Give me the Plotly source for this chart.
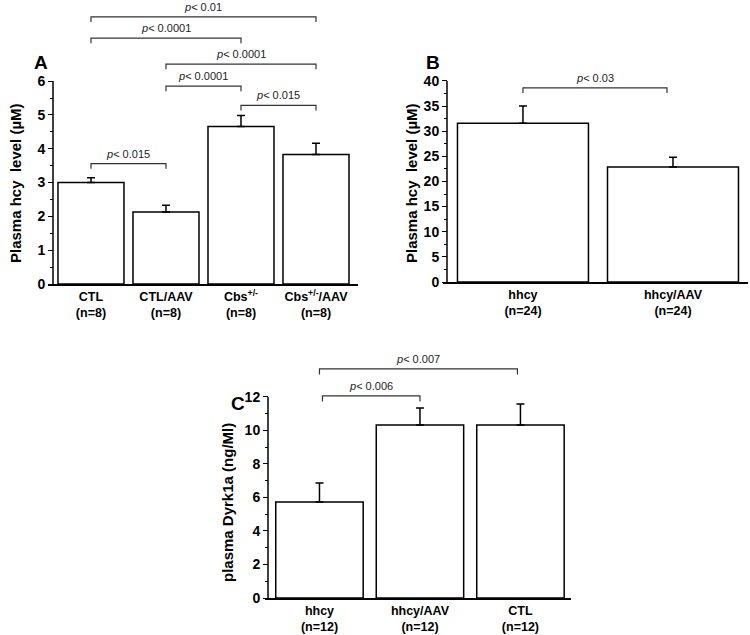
import plotly.graph_objects as go

W, H = 750, 635

# ---- data ----
a_labels = ['CTL<br>(n=8)', 'CTL/AAV<br>(n=8)', 'Cbs<sup>+/-</sup><br>(n=8)', 'Cbs<sup>+/-</sup>/AAV<br>(n=8)']
a_means = [3.0, 2.13, 4.66, 3.83]
a_err = [0.14, 0.2, 0.32, 0.33]
a_brackets = [(0, 1, 3.56, '0.015'), (2, 3, 5.28, '0.015'), (1, 2, 5.85, '0.0001'),
              (1, 3, 6.5, '0.0001'), (0, 2, 7.27, '0.0001'), (0, 3, 7.9, '0.01')]

b_labels = ['hhcy<br>(n=24)', 'hhcy/AAV<br>(n=24)']
b_means = [31.6, 22.9]
b_err = [3.4, 1.9]
b_brackets = [(0, 0.96, 38.6, '0.03')]

c_labels = ['hhcy<br>(n=12)', 'hhcy/AAV<br>(n=12)', 'CTL<br>(n=12)']
c_means = [5.73, 10.33, 10.33]
c_err = [1.14, 1.01, 1.25]
c_brackets = [(0.03, 1, 12.06, '0.006'), (0, 1.97, 13.67, '0.007')]

FONT = 'Liberation Sans, Arial, sans-serif'


def px(x):
    return x / W


def py(y):
    return 1 - y / H


fig = go.Figure()

# pixel-based layout of the three panels
panels = [
    dict(n='', labels=a_labels, means=a_means, err=a_err, br=a_brackets,
         xdom=(48, 358), ypos=53, ydom=(284, 5), xr=(-0.573, 3.56), yr=(0, 8.25),
         ticks=list(range(0, 7)), minor=[i + 0.5 for i in range(6)], w=0.88, drop=0.15,
         title='Plasma hcy  level (µM)', tpos=(15, 183), letter='A', lpos=(41, 63)),
    dict(n='2', labels=b_labels, means=b_means, err=b_err, br=b_brackets,
         xdom=(443, 748), ypos=447, ydom=(282, 5), xr=(-0.533, 1.5), yr=(0, 55.1),
         ticks=list(range(0, 41, 5)), minor=[i * 5 + 2.5 for i in range(8)], w=0.873, drop=1.0,
         title='Plasma hcy  level (µM)', tpos=(411, 183), letter='B', lpos=(433, 63)),
    dict(n='3', labels=c_labels, means=c_means, err=c_err, br=c_brackets,
         xdom=(265, 571), ypos=268, ydom=(598, 350), xr=(-0.542, 2.503), yr=(0, 14.8),
         ticks=list(range(0, 13, 2)), minor=[i * 2 + 1 for i in range(6)], w=0.87, drop=0.33,
         title='plasma Dyrk1a (ng/Ml)', tpos=(228, 503), letter='C', lpos=(238, 403)),
]

layout = dict(width=W, height=H, margin=dict(l=0, r=0, t=0, b=0, autoexpand=False),
              paper_bgcolor='white', plot_bgcolor='white', showlegend=False)
shapes = []
annotations = []

for p in panels:
    xa = 'x' + p['n']
    ya = 'y' + p['n']
    xs = list(range(len(p['means'])))
    fig.add_trace(go.Bar(
        x=xs, y=p['means'], width=p['w'], xaxis=xa, yaxis=ya,
        marker=dict(color='white', line=dict(color='black', width=1.5)),
        error_y=dict(type='data', symmetric=False, array=p['err'], arrayminus=[0] * len(xs),
                     color='black', thickness=1.5, width=4),
    ))
    layout['xaxis' + p['n']] = dict(
        domain=[px(p['xdom'][0]), px(p['xdom'][1])], range=list(p['xr']), anchor=ya,
        tickvals=xs, ticktext=p['labels'], ticks='', showline=True, linecolor='black',
        linewidth=1.5, showgrid=False, zeroline=False, automargin=False,
        tickfont=dict(family=FONT, size=12.5, color='black', weight='bold'))
    layout['yaxis' + p['n']] = dict(
        domain=[py(p['ydom'][0]), py(p['ydom'][1])], range=list(p['yr']), anchor='free',
        position=px(p['ypos']), tickvals=p['ticks'], ticks='outside', ticklen=5,
        tickwidth=1.2, tickcolor='black', showline=False, showgrid=False, zeroline=False,
        automargin=False,
        minor=dict(tickvals=p['minor'], ticks='outside', ticklen=3, tickwidth=1, tickcolor='black'),
        tickfont=dict(family=FONT, size=14, color='black', weight='bold'))
    # visible y axis line only up to the top tick
    shapes.append(dict(type='line', xref='paper', yref=ya, x0=px(p['ypos']), x1=px(p['ypos']),
                       y0=0, y1=p['ticks'][-1], line=dict(color='black', width=1.5)))
    # significance brackets
    for x0, x1, lev, txt in p['br']:
        d = p['drop']
        shapes.append(dict(type='path', xref=xa, yref=ya,
                           path=f'M {x0},{lev - d} L {x0},{lev} L {x1},{lev} L {x1},{lev - d}',
                           line=dict(color='#333333', width=1.2)))
        annotations.append(dict(xref=xa, yref=ya, x=(x0 + x1) / 2, y=lev, yanchor='bottom',
                                xanchor='center', yshift=2, showarrow=False, text='<i>p</i>< ' + txt,
                                font=dict(family=FONT, size=11, color='#222222')))
    annotations.append(dict(xref='paper', yref='paper', x=px(p['tpos'][0]), y=py(p['tpos'][1]),
                            xanchor='center', yanchor='middle',
                            text=p['title'], textangle=-90, showarrow=False,
                            font=dict(family=FONT, size=15, color='black', weight='bold')))
    annotations.append(dict(xref='paper', yref='paper', x=px(p['lpos'][0]), y=py(p['lpos'][1]),
                            xanchor='center', yanchor='middle',
                            text=p['letter'], showarrow=False,
                            font=dict(family=FONT, size=19, color='black', weight='bold')))

layout['shapes'] = shapes
layout['annotations'] = annotations
fig.update_layout(**layout)
# the page's default 8px body margin would push the figure off the window
fig.write_html('out.html', config={'displayModeBar': False},
               post_script="document.body.style.margin = '0';")
